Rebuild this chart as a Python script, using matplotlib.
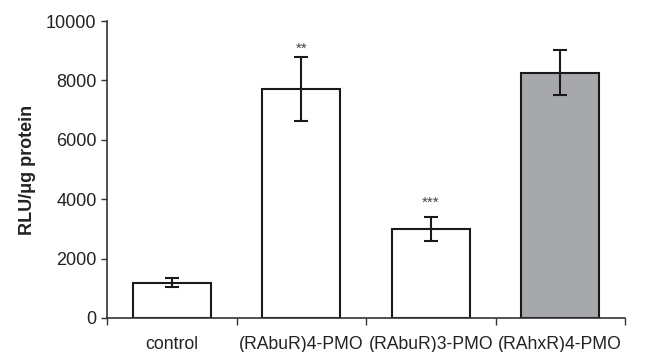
import numpy as np
import matplotlib
matplotlib.use("Agg")
import matplotlib.pyplot as plt

plt.rcParams['font.family'] = ['Liberation Sans', 'DejaVu Sans']

# data
groups = ["control", "(RAbuR)4-PMO", "(RAbuR)3-PMO", "(RAhxR)4-PMO"]
rlu = [1190, 7700, 3000, 8260]
err = [150, 1080, 400, 750]
colors = ["white", "white", "white", "#a7a8ab"]
stars = ["", "**", "***", ""]
star_gap = [0, 6, 10, 0]  # points above error bar cap

fig = plt.figure(figsize=(6.5, 3.52), dpi=100)
ax = fig.add_axes([0.1646, 0.0966, 0.797, 0.8437])

x = np.arange(len(groups))
ax.bar(x, rlu, width=0.6, color=colors, edgecolor="#1a1a1a", linewidth=1.5, zorder=2)
ax.errorbar(x, rlu, yerr=err, fmt="none", ecolor="#1a1a1a", elinewidth=1.5,
            capsize=5, capthick=1.5, zorder=3)

for xi, v, e, s, g in zip(x, rlu, err, stars, star_gap):
    if s:
        ax.annotate(s, (xi, v + e), xytext=(0, g), textcoords="offset points",
                    ha="center", va="center", fontsize=11, color="#444444")

ax.set_xlim(-0.5, len(groups) - 0.5)
ax.set_ylim(0, 10000)
ax.set_yticks(np.arange(0, 10001, 2000))
ax.set_xticks(x)
ax.set_xticklabels(groups)
ax.set_xticks(np.arange(-0.5, len(groups) - 0.4, 1), minor=True)
ax.tick_params(axis="x", which="major", length=0, pad=13, labelsize=12.7, colors="#222222")
ax.tick_params(axis="x", which="minor", length=5, width=1, color="#333333")
ax.tick_params(axis="y", length=4, width=1, color="#333333", labelsize=13, labelcolor="#222222")

for side in ["top", "right"]:
    ax.spines[side].set_visible(False)
for side in ["left", "bottom"]:
    ax.spines[side].set_color("#333333")
    ax.spines[side].set_linewidth(1.2)

ax.set_ylabel("RLU/\u03bcg protein", fontsize=13, fontweight="bold", color="#222222", labelpad=7)

fig.savefig("out.png", dpi=100)
